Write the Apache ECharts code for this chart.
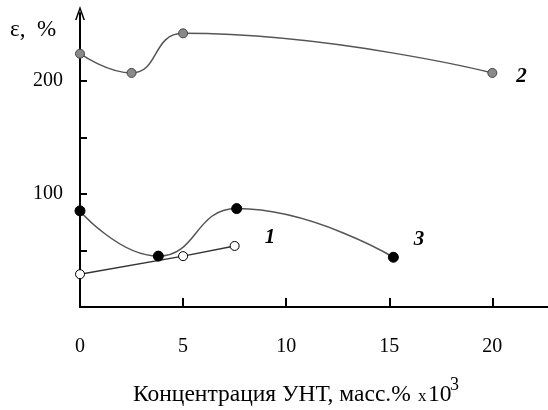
<!DOCTYPE html>
<html><head><meta charset="utf-8">
<script src="https://cdn.jsdelivr.net/npm/echarts@6/dist/echarts.min.js"></script>
<style>html,body{margin:0;padding:0;background:#fff}#c{width:548px;height:410px}</style>
</head><body><div id="c"></div>
<script>
// Curve 1 (open circles)
const series1X = [0, 5, 7.5];
const series1Y = [29, 45, 54];
// Curve 2 (grey circles)
const series2X = [0, 2.5, 5, 20];
const series2Y = [224, 207, 242, 207];
// Curve 3 (black circles)
const series3X = [0, 3.8, 7.6, 15.2];
const series3Y = [85, 45, 87, 44];
const xTicks = [0, 5, 10, 15, 20];
const yTicks = [50, 100, 150, 200];
const yLabels = [100, 200];
const seriesNames = ['1', '2', '3'];

const FONT = '"Liberation Serif", "DejaVu Serif", serif';
function pts(xs, ys) { return xs.map((x, i) => [x, ys[i]]); }
function withEndLabel(data, name, offset) {
  const d = data.map(p => ({ value: p }));
  d[d.length - 1].label = {
    show: true, position: 'right', offset: offset, formatter: name,
    fontFamily: FONT, fontStyle: 'italic', fontWeight: 'bold', fontSize: 21, color: '#000'
  };
  return d;
}
const chart = echarts.init(document.getElementById('c'), null, { renderer: 'canvas' });
chart.setOption({
  animation: false,
  backgroundColor: '#fff',
  grid: { left: 80, right: 0, top: 13, bottom: 103 },
  xAxis: {
    type: 'value', min: 0, max: 22.7,
    axisLine: { show: true, lineStyle: { color: '#000', width: 2 } },
    axisTick: { show: true, inside: true, length: 9, customValues: xTicks, lineStyle: { color: '#000', width: 2 } },
    axisLabel: { customValues: xTicks, margin: 30, fontFamily: FONT, fontSize: 20, color: '#000' },
    splitLine: { show: false }
  },
  yAxis: {
    type: 'value', min: 0, max: 260,
    axisLine: { show: true, symbol: ['none', 'path://M0,14 L5,0 L10,14 L8.4,14 L5,4.2 L1.6,14 Z'], symbolSize: [12, 14], lineStyle: { color: '#000', width: 2 } },
    axisTick: { show: true, inside: true, length: 7, customValues: yTicks, lineStyle: { color: '#000', width: 2 } },
    axisLabel: { customValues: yLabels, margin: 17, fontFamily: FONT, fontSize: 20, color: '#000' },
    splitLine: { show: false }
  },
  graphic: [
    { type: 'text', left: 10, top: 18, style: { text: 'ε,  %', font: '23px ' + FONT, fill: '#000' } },
    { type: 'text', left: 133, top: 383, style: { text: 'Концентрация УНТ, масс.%', font: '23.5px ' + FONT, fill: '#000' } },
    { type: 'text', left: 418, top: 388, style: { text: 'x', font: '17px ' + FONT, fill: '#000' } },
    { type: 'text', left: 428, top: 383, style: { text: '10', font: '23.5px ' + FONT, fill: '#000' } },
    { type: 'text', left: 450, top: 376, style: { text: '3', font: '18px ' + FONT, fill: '#000' } }
  ],
  series: [
    {
      name: seriesNames[0], type: 'line', smooth: false,
      data: withEndLabel(pts(series1X, series1Y), seriesNames[0], [20, -8]),
      symbol: 'circle', symbolSize: 9,
      lineStyle: { color: '#333', width: 1.5 },
      itemStyle: { color: '#fff', borderColor: '#000', borderWidth: 1 }
    },
    {
      name: seriesNames[1], type: 'line', smooth: 0.5,
      data: withEndLabel(pts(series2X, series2Y), seriesNames[1], [14, 4]),
      symbol: 'circle', symbolSize: 9,
      lineStyle: { color: '#555', width: 1.5 },
      itemStyle: { color: '#8a8a8a', borderColor: '#444', borderWidth: 1 }
    },
    {
      name: seriesNames[2], type: 'line', smooth: 0.5,
      data: withEndLabel(pts(series3X, series3Y), seriesNames[2], [10, -18]),
      symbol: 'circle', symbolSize: 10,
      lineStyle: { color: '#555', width: 1.5 },
      itemStyle: { color: '#000', borderColor: '#000', borderWidth: 1 }
    }
  ]
});
</script></body></html>
